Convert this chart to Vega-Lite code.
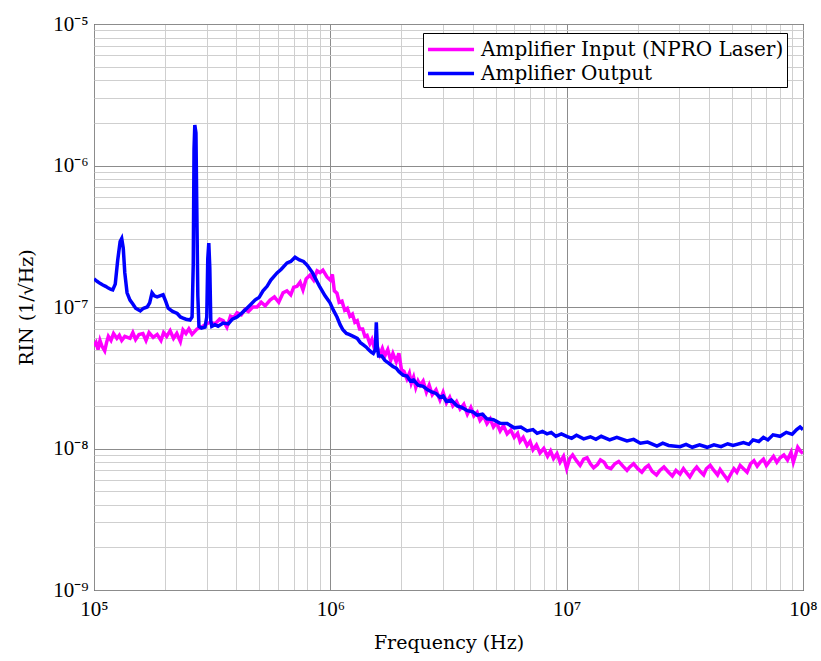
{
  "$schema": "https://vega.github.io/schema/vega-lite/v6.json",
  "autosize": "none",
  "width": 709,
  "height": 566,
  "padding": {"left": 94, "top": 24, "right": 18, "bottom": 71},
  "background": "white",
  "config": {
    "font": "Liberation Serif",
    "view": {"stroke": "#000", "strokeWidth": 1}
  },
  "datasets": {
    "output": [
      {"f": 1.00e5, "rin": 1.58e-7}, {"f": 1.03e5, "rin": 1.52e-7}, {"f": 1.06e5, "rin": 1.47e-7}, {"f": 1.09e5, "rin": 1.43e-7},
      {"f": 1.12e5, "rin": 1.40e-7}, {"f": 1.15e5, "rin": 1.36e-7}, {"f": 1.18e5, "rin": 1.33e-7}, {"f": 1.20e5, "rin": 1.32e-7},
      {"f": 1.23e5, "rin": 1.45e-7}, {"f": 1.26e5, "rin": 2.15e-7}, {"f": 1.29e5, "rin": 2.9e-7}, {"f": 1.31e5, "rin": 3.05e-7},
      {"f": 1.33e5, "rin": 2.6e-7}, {"f": 1.35e5, "rin": 1.74e-7}, {"f": 1.38e5, "rin": 1.26e-7}, {"f": 1.42e5, "rin": 1.12e-7},
      {"f": 1.46e5, "rin": 1.05e-7}, {"f": 1.50e5, "rin": 9.8e-8}, {"f": 1.57e5, "rin": 9.4e-8}, {"f": 1.62e5, "rin": 9.8e-8},
      {"f": 1.68e5, "rin": 1.0e-7}, {"f": 1.72e5, "rin": 1.07e-7}, {"f": 1.76e5, "rin": 1.26e-7}, {"f": 1.80e5, "rin": 1.2e-7},
      {"f": 1.85e5, "rin": 1.18e-7}, {"f": 1.90e5, "rin": 1.2e-7}, {"f": 1.96e5, "rin": 1.22e-7}, {"f": 2.01e5, "rin": 1.1e-7},
      {"f": 2.06e5, "rin": 9.8e-8}, {"f": 2.15e5, "rin": 9.3e-8}, {"f": 2.25e5, "rin": 9.0e-8}, {"f": 2.32e5, "rin": 8.5e-8},
      {"f": 2.38e5, "rin": 8.36e-8}, {"f": 2.45e5, "rin": 8.2e-8}, {"f": 2.55e5, "rin": 8.1e-8}, {"f": 2.60e5, "rin": 8.5e-8},
      {"f": 2.63e5, "rin": 2.0e-7}, {"f": 2.65e5, "rin": 1.3e-6}, {"f": 2.67e5, "rin": 1.93e-6}, {"f": 2.70e5, "rin": 1.7e-6},
      {"f": 2.72e5, "rin": 5.7e-7}, {"f": 2.75e5, "rin": 1.2e-7}, {"f": 2.78e5, "rin": 7.3e-8}, {"f": 2.85e5, "rin": 7.1e-8},
      {"f": 2.95e5, "rin": 7.2e-8}, {"f": 3.00e5, "rin": 8.5e-8}, {"f": 3.03e5, "rin": 2.2e-7}, {"f": 3.06e5, "rin": 2.83e-7},
      {"f": 3.09e5, "rin": 1.9e-7}, {"f": 3.12e5, "rin": 8.0e-8}, {"f": 3.15e5, "rin": 7.3e-8}, {"f": 3.25e5, "rin": 7.5e-8},
      {"f": 3.35e5, "rin": 7.3e-8}, {"f": 3.52e5, "rin": 7.7e-8}, {"f": 3.7e5, "rin": 7.6e-8}, {"f": 3.85e5, "rin": 8.2e-8},
      {"f": 4.03e5, "rin": 8.5e-8}, {"f": 4.2e5, "rin": 9.0e-8}, {"f": 4.35e5, "rin": 9.5e-8}, {"f": 4.57e5, "rin": 1.03e-7},
      {"f": 4.8e5, "rin": 1.12e-7}, {"f": 5.0e5, "rin": 1.17e-7}, {"f": 5.19e5, "rin": 1.3e-7}, {"f": 5.4e5, "rin": 1.4e-7},
      {"f": 5.6e5, "rin": 1.55e-7}, {"f": 5.95e5, "rin": 1.74e-7}, {"f": 6.2e5, "rin": 1.85e-7}, {"f": 6.56e5, "rin": 2.05e-7},
      {"f": 6.8e5, "rin": 2.1e-7}, {"f": 7.09e5, "rin": 2.25e-7}, {"f": 7.4e5, "rin": 2.15e-7}, {"f": 7.7e5, "rin": 2.1e-7},
      {"f": 7.97e5, "rin": 1.98e-7}, {"f": 8.4e5, "rin": 1.75e-7}, {"f": 9.04e5, "rin": 1.38e-7}, {"f": 9.5e5, "rin": 1.2e-7},
      {"f": 9.97e5, "rin": 1.07e-7}, {"f": 1.03e6, "rin": 9.5e-8}, {"f": 1.067e6, "rin": 8.5e-8}, {"f": 1.1e6, "rin": 7.5e-8},
      {"f": 1.13e6, "rin": 6.9e-8}, {"f": 1.17e6, "rin": 6.5e-8}, {"f": 1.2e6, "rin": 6.4e-8}, {"f": 1.25e6, "rin": 6.2e-8},
      {"f": 1.3e6, "rin": 6.0e-8}, {"f": 1.34e6, "rin": 5.6e-8}, {"f": 1.38e6, "rin": 5.4e-8}, {"f": 1.42e6, "rin": 5.2e-8},
      {"f": 1.45e6, "rin": 5.0e-8}, {"f": 1.49e6, "rin": 4.8e-8}, {"f": 1.52e6, "rin": 4.7e-8}, {"f": 1.55e6, "rin": 5.0e-8},
      {"f": 1.565e6, "rin": 7.8e-8}, {"f": 1.58e6, "rin": 5.3e-8}, {"f": 1.6e6, "rin": 4.5e-8}, {"f": 1.65e6, "rin": 4.5e-8},
      {"f": 1.7e6, "rin": 4.2e-8}, {"f": 1.77e6, "rin": 4.0e-8}, {"f": 1.84e6, "rin": 3.8e-8}, {"f": 1.9e6, "rin": 3.7e-8},
      {"f": 1.95e6, "rin": 3.5e-8}, {"f": 2.03e6, "rin": 3.3e-8}, {"f": 2.11e6, "rin": 3.25e-8}, {"f": 2.18e6, "rin": 3.0e-8},
      {"f": 2.25e6, "rin": 3.05e-8}, {"f": 2.35e6, "rin": 2.8e-8}, {"f": 2.47e6, "rin": 2.75e-8}, {"f": 2.58e6, "rin": 2.6e-8},
      {"f": 2.7e6, "rin": 2.5e-8}, {"f": 2.8e6, "rin": 2.45e-8}, {"f": 2.91e6, "rin": 2.3e-8}, {"f": 3.0e6, "rin": 2.35e-8},
      {"f": 3.1e6, "rin": 2.15e-8}, {"f": 3.25e6, "rin": 2.2e-8}, {"f": 3.44e6, "rin": 2.0e-8}, {"f": 3.6e6, "rin": 1.95e-8},
      {"f": 3.8e6, "rin": 1.85e-8}, {"f": 4.0e6, "rin": 1.82e-8}, {"f": 4.18e6, "rin": 1.72e-8}, {"f": 4.4e6, "rin": 1.75e-8},
      {"f": 4.6e6, "rin": 1.62e-8}, {"f": 4.9e6, "rin": 1.6e-8}, {"f": 5.23e6, "rin": 1.51e-8}, {"f": 5.6e6, "rin": 1.5e-8},
      {"f": 6.0e6, "rin": 1.4e-8}, {"f": 6.4e6, "rin": 1.42e-8}, {"f": 6.8e6, "rin": 1.33e-8}, {"f": 7.2e6, "rin": 1.36e-8},
      {"f": 7.5e6, "rin": 1.28e-8}, {"f": 7.9e6, "rin": 1.32e-8}, {"f": 8.26e6, "rin": 1.27e-8}, {"f": 8.6e6, "rin": 1.3e-8},
      {"f": 9.0e6, "rin": 1.22e-8}, {"f": 9.5e6, "rin": 1.27e-8},
      {"f": 1.0e7, "rin": 1.22e-8}, {"f": 1.05e7, "rin": 1.18e-8}, {"f": 1.1e7, "rin": 1.24e-8}, {"f": 1.18e7, "rin": 1.17e-8},
      {"f": 1.26e7, "rin": 1.21e-8}, {"f": 1.33e7, "rin": 1.16e-8}, {"f": 1.4e7, "rin": 1.22e-8}, {"f": 1.52e7, "rin": 1.15e-8},
      {"f": 1.63e7, "rin": 1.2e-8}, {"f": 1.8e7, "rin": 1.13e-8}, {"f": 1.92e7, "rin": 1.16e-8}, {"f": 2.05e7, "rin": 1.09e-8},
      {"f": 2.2e7, "rin": 1.11e-8}, {"f": 2.41e7, "rin": 1.04e-8}, {"f": 2.55e7, "rin": 1.09e-8}, {"f": 2.7e7, "rin": 1.05e-8},
      {"f": 3.02e7, "rin": 1.03e-8}, {"f": 3.2e7, "rin": 1.07e-8}, {"f": 3.4e7, "rin": 1.02e-8}, {"f": 3.65e7, "rin": 1.06e-8},
      {"f": 3.93e7, "rin": 1.02e-8}, {"f": 4.2e7, "rin": 1.06e-8}, {"f": 4.5e7, "rin": 1.03e-8}, {"f": 4.8e7, "rin": 1.08e-8},
      {"f": 5.06e7, "rin": 1.05e-8}, {"f": 5.6e7, "rin": 1.1e-8}, {"f": 5.9e7, "rin": 1.07e-8}, {"f": 6.15e7, "rin": 1.15e-8},
      {"f": 6.5e7, "rin": 1.12e-8}, {"f": 6.8e7, "rin": 1.2e-8}, {"f": 7.1e7, "rin": 1.15e-8}, {"f": 7.47e7, "rin": 1.25e-8},
      {"f": 8.0e7, "rin": 1.22e-8}, {"f": 8.5e7, "rin": 1.3e-8}, {"f": 9.0e7, "rin": 1.26e-8}, {"f": 9.4e7, "rin": 1.36e-8},
      {"f": 9.72e7, "rin": 1.42e-8}, {"f": 1.0e8, "rin": 1.36e-8}
    ],
    "input": [
      {"f": 1.00e5, "rin": 5.3e-8}, {"f": 1.02e5, "rin": 5.6e-8}, {"f": 1.04e5, "rin": 5.0e-8}, {"f": 1.06e5, "rin": 5.8e-8},
      {"f": 1.08e5, "rin": 5.3e-8}, {"f": 1.11e5, "rin": 4.9e-8}, {"f": 1.13e5, "rin": 5.6e-8}, {"f": 1.15e5, "rin": 6.2e-8},
      {"f": 1.18e5, "rin": 5.8e-8}, {"f": 1.21e5, "rin": 6.5e-8}, {"f": 1.25e5, "rin": 6.0e-8}, {"f": 1.28e5, "rin": 6.3e-8},
      {"f": 1.31e5, "rin": 5.8e-8}, {"f": 1.35e5, "rin": 6.2e-8}, {"f": 1.42e5, "rin": 6.0e-8}, {"f": 1.46e5, "rin": 6.6e-8},
      {"f": 1.50e5, "rin": 5.9e-8}, {"f": 1.55e5, "rin": 6.4e-8}, {"f": 1.61e5, "rin": 6.5e-8}, {"f": 1.66e5, "rin": 5.8e-8},
      {"f": 1.71e5, "rin": 6.6e-8}, {"f": 1.78e5, "rin": 6.1e-8}, {"f": 1.85e5, "rin": 6.4e-8}, {"f": 1.92e5, "rin": 5.8e-8},
      {"f": 1.97e5, "rin": 6.6e-8}, {"f": 2.03e5, "rin": 6.2e-8}, {"f": 2.10e5, "rin": 6.8e-8}, {"f": 2.17e5, "rin": 6.0e-8},
      {"f": 2.24e5, "rin": 6.5e-8}, {"f": 2.32e5, "rin": 5.7e-8}, {"f": 2.38e5, "rin": 6.9e-8}, {"f": 2.45e5, "rin": 6.5e-8},
      {"f": 2.52e5, "rin": 7.0e-8}, {"f": 2.60e5, "rin": 6.4e-8}, {"f": 2.73e5, "rin": 7.0e-8}, {"f": 2.85e5, "rin": 7.2e-8},
      {"f": 2.95e5, "rin": 7.5e-8}, {"f": 3.10e5, "rin": 7.8e-8}, {"f": 3.25e5, "rin": 7.6e-8}, {"f": 3.40e5, "rin": 8.2e-8},
      {"f": 3.52e5, "rin": 8.0e-8}, {"f": 3.65e5, "rin": 7.2e-8}, {"f": 3.78e5, "rin": 8.6e-8}, {"f": 3.90e5, "rin": 8.4e-8},
      {"f": 4.03e5, "rin": 9.1e-8}, {"f": 4.2e5, "rin": 8.8e-8}, {"f": 4.35e5, "rin": 9.6e-8}, {"f": 4.5e5, "rin": 9.3e-8},
      {"f": 4.7e5, "rin": 1.0e-7}, {"f": 4.9e5, "rin": 1.0e-7}, {"f": 5.1e5, "rin": 1.08e-7}, {"f": 5.3e5, "rin": 1.02e-7},
      {"f": 5.56e5, "rin": 1.12e-7}, {"f": 5.8e5, "rin": 1.18e-7}, {"f": 6.05e5, "rin": 1.08e-7}, {"f": 6.31e5, "rin": 1.26e-7},
      {"f": 6.55e5, "rin": 1.3e-7}, {"f": 6.8e5, "rin": 1.22e-7}, {"f": 7.0e5, "rin": 1.38e-7}, {"f": 7.23e5, "rin": 1.4e-7},
      {"f": 7.45e5, "rin": 1.5e-7}, {"f": 7.66e5, "rin": 1.32e-7}, {"f": 7.9e5, "rin": 1.58e-7}, {"f": 8.2e5, "rin": 1.68e-7},
      {"f": 8.5e5, "rin": 1.55e-7}, {"f": 8.79e5, "rin": 1.8e-7}, {"f": 9.04e5, "rin": 1.75e-7}, {"f": 9.3e5, "rin": 1.82e-7},
      {"f": 9.68e5, "rin": 1.63e-7}, {"f": 1.0e6, "rin": 1.55e-7}, {"f": 1.02e6, "rin": 1.7e-7}, {"f": 1.04e6, "rin": 1.3e-7},
      {"f": 1.067e6, "rin": 1.25e-7}, {"f": 1.09e6, "rin": 1.08e-7}, {"f": 1.12e6, "rin": 1.1e-7}, {"f": 1.15e6, "rin": 9.5e-8},
      {"f": 1.18e6, "rin": 9.8e-8}, {"f": 1.21e6, "rin": 8.6e-8}, {"f": 1.24e6, "rin": 8.9e-8}, {"f": 1.27e6, "rin": 7.8e-8},
      {"f": 1.30e6, "rin": 8.0e-8}, {"f": 1.33e6, "rin": 7.0e-8}, {"f": 1.37e6, "rin": 7.0e-8}, {"f": 1.40e6, "rin": 6.2e-8},
      {"f": 1.43e6, "rin": 6.3e-8}, {"f": 1.47e6, "rin": 5.5e-8}, {"f": 1.5e6, "rin": 5.9e-8}, {"f": 1.54e6, "rin": 5.0e-8},
      {"f": 1.58e6, "rin": 5.2e-8}, {"f": 1.62e6, "rin": 4.6e-8}, {"f": 1.66e6, "rin": 5.1e-8}, {"f": 1.7e6, "rin": 4.5e-8},
      {"f": 1.75e6, "rin": 5.0e-8}, {"f": 1.8e6, "rin": 4.2e-8}, {"f": 1.84e6, "rin": 4.7e-8}, {"f": 1.9e6, "rin": 4.1e-8},
      {"f": 1.95e6, "rin": 4.7e-8}, {"f": 2.0e6, "rin": 3.6e-8}, {"f": 2.05e6, "rin": 3.5e-8}, {"f": 2.11e6, "rin": 3.1e-8},
      {"f": 2.16e6, "rin": 3.4e-8}, {"f": 2.2e6, "rin": 2.9e-8}, {"f": 2.25e6, "rin": 3.2e-8}, {"f": 2.3e6, "rin": 2.7e-8},
      {"f": 2.35e6, "rin": 3.0e-8}, {"f": 2.4e6, "rin": 2.8e-8}, {"f": 2.47e6, "rin": 3.0e-8}, {"f": 2.55e6, "rin": 2.5e-8},
      {"f": 2.62e6, "rin": 2.8e-8}, {"f": 2.7e6, "rin": 2.4e-8}, {"f": 2.8e6, "rin": 2.6e-8}, {"f": 2.91e6, "rin": 2.2e-8},
      {"f": 3.0e6, "rin": 2.5e-8}, {"f": 3.1e6, "rin": 2.1e-8}, {"f": 3.2e6, "rin": 2.3e-8}, {"f": 3.3e6, "rin": 2.0e-8},
      {"f": 3.42e6, "rin": 2.15e-8}, {"f": 3.54e6, "rin": 1.9e-8}, {"f": 3.67e6, "rin": 2.05e-8}, {"f": 3.8e6, "rin": 1.75e-8},
      {"f": 3.93e6, "rin": 1.95e-8}, {"f": 4.05e6, "rin": 1.7e-8}, {"f": 4.18e6, "rin": 1.8e-8}, {"f": 4.3e6, "rin": 1.58e-8},
      {"f": 4.45e6, "rin": 1.7e-8}, {"f": 4.6e6, "rin": 1.5e-8}, {"f": 4.75e6, "rin": 1.62e-8}, {"f": 4.9e6, "rin": 1.42e-8},
      {"f": 5.05e6, "rin": 1.52e-8}, {"f": 5.23e6, "rin": 1.33e-8}, {"f": 5.4e6, "rin": 1.45e-8}, {"f": 5.6e6, "rin": 1.27e-8},
      {"f": 5.8e6, "rin": 1.35e-8}, {"f": 6.0e6, "rin": 1.2e-8}, {"f": 6.2e6, "rin": 1.28e-8}, {"f": 6.35e6, "rin": 1.12e-8},
      {"f": 6.55e6, "rin": 1.2e-8}, {"f": 6.8e6, "rin": 1.05e-8}, {"f": 7.0e6, "rin": 1.12e-8}, {"f": 7.2e6, "rin": 9.8e-9},
      {"f": 7.45e6, "rin": 1.06e-8}, {"f": 7.71e6, "rin": 9.3e-9}, {"f": 8.0e6, "rin": 1.0e-8}, {"f": 8.3e6, "rin": 8.8e-9},
      {"f": 8.55e6, "rin": 9.6e-9}, {"f": 8.8e6, "rin": 8.5e-9}, {"f": 9.1e6, "rin": 9.2e-9}, {"f": 9.38e6, "rin": 8.0e-9},
      {"f": 9.7e6, "rin": 8.8e-9}, {"f": 1.0e7, "rin": 7.2e-9}, {"f": 1.03e7, "rin": 8.5e-9}, {"f": 1.06e7, "rin": 9.0e-9},
      {"f": 1.1e7, "rin": 8.2e-9}, {"f": 1.14e7, "rin": 7.6e-9}, {"f": 1.18e7, "rin": 8.4e-9}, {"f": 1.22e7, "rin": 8.6e-9},
      {"f": 1.26e7, "rin": 7.8e-9}, {"f": 1.3e7, "rin": 7.3e-9}, {"f": 1.35e7, "rin": 7.7e-9}, {"f": 1.39e7, "rin": 8.3e-9},
      {"f": 1.44e7, "rin": 8.0e-9}, {"f": 1.48e7, "rin": 7.4e-9}, {"f": 1.54e7, "rin": 7.2e-9}, {"f": 1.6e7, "rin": 7.8e-9},
      {"f": 1.66e7, "rin": 8.1e-9}, {"f": 1.73e7, "rin": 7.5e-9}, {"f": 1.8e7, "rin": 7.0e-9}, {"f": 1.85e7, "rin": 7.4e-9},
      {"f": 1.92e7, "rin": 7.8e-9}, {"f": 2.0e7, "rin": 7.2e-9}, {"f": 2.08e7, "rin": 6.8e-9}, {"f": 2.15e7, "rin": 7.3e-9},
      {"f": 2.22e7, "rin": 7.6e-9}, {"f": 2.3e7, "rin": 6.9e-9}, {"f": 2.4e7, "rin": 6.5e-9}, {"f": 2.48e7, "rin": 7.0e-9},
      {"f": 2.58e7, "rin": 7.4e-9}, {"f": 2.7e7, "rin": 6.8e-9}, {"f": 2.8e7, "rin": 6.4e-9}, {"f": 2.9e7, "rin": 7.0e-9},
      {"f": 3.02e7, "rin": 6.6e-9}, {"f": 3.12e7, "rin": 7.2e-9}, {"f": 3.2e7, "rin": 6.8e-9}, {"f": 3.32e7, "rin": 6.3e-9},
      {"f": 3.45e7, "rin": 7.0e-9}, {"f": 3.55e7, "rin": 7.4e-9}, {"f": 3.67e7, "rin": 6.9e-9}, {"f": 3.8e7, "rin": 6.5e-9},
      {"f": 3.9e7, "rin": 7.2e-9}, {"f": 4.05e7, "rin": 7.6e-9}, {"f": 4.2e7, "rin": 7.0e-9}, {"f": 4.35e7, "rin": 6.5e-9},
      {"f": 4.46e7, "rin": 7.1e-9}, {"f": 4.6e7, "rin": 6.6e-9}, {"f": 4.8e7, "rin": 6.0e-9}, {"f": 4.95e7, "rin": 6.6e-9},
      {"f": 5.1e7, "rin": 7.2e-9}, {"f": 5.25e7, "rin": 6.8e-9}, {"f": 5.42e7, "rin": 7.6e-9}, {"f": 5.6e7, "rin": 7.2e-9},
      {"f": 5.8e7, "rin": 6.8e-9}, {"f": 6.0e7, "rin": 7.8e-9}, {"f": 6.2e7, "rin": 8.2e-9}, {"f": 6.4e7, "rin": 7.5e-9},
      {"f": 6.59e7, "rin": 8.0e-9}, {"f": 6.8e7, "rin": 8.4e-9}, {"f": 7.0e7, "rin": 7.6e-9}, {"f": 7.25e7, "rin": 8.2e-9},
      {"f": 7.5e7, "rin": 8.8e-9}, {"f": 7.75e7, "rin": 8.0e-9}, {"f": 8.0e7, "rin": 8.6e-9}, {"f": 8.3e7, "rin": 9.0e-9},
      {"f": 8.6e7, "rin": 8.3e-9}, {"f": 8.9e7, "rin": 9.4e-9}, {"f": 9.1e7, "rin": 8.0e-9}, {"f": 9.3e7, "rin": 9.0e-9},
      {"f": 9.5e7, "rin": 1.02e-8}, {"f": 9.75e7, "rin": 9.6e-9}, {"f": 1.0e8, "rin": 9.2e-9}
    ]
  },
  "layer": [
    {
      "data": {"name": "input"},
      "transform": [{"calculate": "'Amplifier Input (NPRO Laser)'", "as": "series"}],
      "mark": {"type": "line", "strokeWidth": 3.5, "clip": true},
      "encoding": {
        "x": {"field": "f", "type": "quantitative"},
        "y": {"field": "rin", "type": "quantitative"},
        "color": {"field": "series", "type": "nominal"}
      }
    },
    {
      "data": {"name": "output"},
      "transform": [{"calculate": "'Amplifier Output'", "as": "series"}],
      "mark": {"type": "line", "strokeWidth": 3.5, "clip": true},
      "encoding": {
        "x": {"field": "f", "type": "quantitative"},
        "y": {"field": "rin", "type": "quantitative"},
        "color": {"field": "series", "type": "nominal"}
      }
    }
  ],
  "encoding": {
    "x": {
      "field": "f", "type": "quantitative",
      "scale": {"type": "log", "domain": [1e5, 1e8], "nice": false},
      "axis": {
        "title": "Frequency (Hz)",
        "titleFont": "DejaVu Serif", "titleFontSize": 19, "titleFontWeight": "normal", "titleColor": "#000", "titlePadding": 14,
        "values": [1e5, 2e5, 3e5, 4e5, 5e5, 6e5, 7e5, 8e5, 9e5, 1e6, 2e6, 3e6, 4e6, 5e6, 6e6, 7e6, 8e6, 9e6, 1e7, 2e7, 3e7, 4e7, 5e7, 6e7, 7e7, 8e7, 9e7, 1e8],
        "labelExpr": "abs(log(datum.value)/LN10 - round(log(datum.value)/LN10)) < 1e-6 ? '10' + substring('⁰¹²³⁴⁵⁶⁷⁸⁹', round(log(datum.value)/LN10), round(log(datum.value)/LN10) + 1) : ''",
        "labelFont": "Liberation Serif", "labelFontSize": 21, "labelColor": "#000", "labelPadding": 8, "labelFlush": false, "labelOverlap": false,
        "ticks": false, "domain": false,
        "grid": true,
        "gridColor": {"condition": {"test": "abs(log(datum.value)/LN10 - round(log(datum.value)/LN10)) < 1e-6", "value": "#8c8c8c"}, "value": "#cfcfcf"}
      }
    },
    "y": {
      "field": "rin", "type": "quantitative",
      "scale": {"type": "log", "domain": [1e-9, 1e-5], "nice": false},
      "axis": {
        "title": "RIN (1/√Hz)",
        "titleFont": "DejaVu Serif", "titleFontSize": 19, "titleFontWeight": "normal", "titleColor": "#000", "titlePadding": 16,
        "values": [1e-9, 2e-9, 3e-9, 4e-9, 5e-9, 6e-9, 7e-9, 8e-9, 9e-9, 1e-8, 2e-8, 3e-8, 4e-8, 5e-8, 6e-8, 7e-8, 8e-8, 9e-8, 1e-7, 2e-7, 3e-7, 4e-7, 5e-7, 6e-7, 7e-7, 8e-7, 9e-7, 1e-6, 2e-6, 3e-6, 4e-6, 5e-6, 6e-6, 7e-6, 8e-6, 9e-6, 1e-5],
        "labelExpr": "abs(log(datum.value)/LN10 - round(log(datum.value)/LN10)) < 1e-6 ? '10⁻' + substring('⁰¹²³⁴⁵⁶⁷⁸⁹', abs(round(log(datum.value)/LN10)), abs(round(log(datum.value)/LN10)) + 1) : ''",
        "labelFont": "Liberation Serif", "labelFontSize": 21, "labelColor": "#000", "labelPadding": 6, "labelFlush": false, "labelOverlap": false,
        "ticks": false, "domain": false,
        "grid": true,
        "gridColor": {"condition": {"test": "abs(log(datum.value)/LN10 - round(log(datum.value)/LN10)) < 1e-6", "value": "#8c8c8c"}, "value": "#cfcfcf"}
      }
    },
    "color": {
      "field": "series", "type": "nominal",
      "scale": {"domain": ["Amplifier Input (NPRO Laser)", "Amplifier Output"], "range": ["#ff00ff", "#0000ff"]},
      "legend": {
        "title": null,
        "orient": "none", "legendX": 329, "legendY": 9,
        "direction": "vertical",
        "symbolType": "M-1,0H3", "symbolStrokeWidth": 3.5, "symbolSize": 530,
        "labelFont": "DejaVu Serif", "labelFontSize": 20, "labelColor": "#000", "labelLimit": 420,
        "labelOffset": 28, "rowPadding": 0,
        "strokeColor": "#000", "fillColor": "white", "padding": 3, "cornerRadius": 0
      }
    }
  }
}
